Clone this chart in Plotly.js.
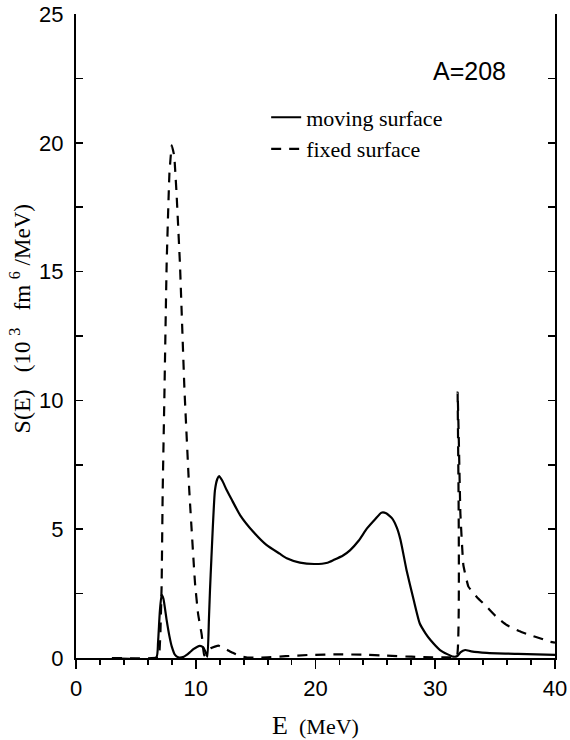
<!DOCTYPE html>
<html>
<head>
<meta charset="utf-8">
<script src="https://cdn.plot.ly/plotly-3.0.1.min.js"></script>
<style>html,body{margin:0;padding:0;background:#fff;}#chart{width:570px;height:740px;}</style>
</head>
<body>
<div id="chart"></div>
<script>
// Energy grid (MeV) and strength S(E) (10^3 fm^6/MeV)
const movingE = [3, 6.7, 6.85, 7.0, 7.15, 7.3, 7.57, 7.8, 8.0, 8.27, 8.6, 9.0, 9.24, 9.5, 9.8, 10.1, 10.35, 10.6, 10.8, 10.97, 11.1, 11.19, 11.3, 11.6, 11.8, 11.95, 12.2, 12.58, 13.0, 13.7, 14.8, 15.9, 17.0, 17.6, 18.7, 19.96, 21.0, 21.5, 22.3, 22.9, 23.6, 24.3, 25.0, 25.5, 25.9, 26.4, 26.8, 27.1, 27.6, 28.2, 28.7, 29.2, 29.6, 30.4, 31.0, 31.5, 31.85, 32.1, 32.5, 33.0, 34.3, 36.9, 40];
const movingS = [0, 0.02, 0.6, 1.8, 2.45, 2.3, 1.47, 0.85, 0.44, 0.12, 0.02, 0.05, 0.12, 0.22, 0.34, 0.43, 0.47, 0.42, 0.25, 0.05, 1.5, 2.64, 3.8, 6.5, 6.95, 7.06, 6.9, 6.52, 6.15, 5.55, 4.9, 4.39, 4.05, 3.87, 3.7, 3.65, 3.7, 3.8, 3.98, 4.19, 4.55, 5.03, 5.4, 5.64, 5.62, 5.42, 5.05, 4.58, 3.42, 2.25, 1.35, 0.95, 0.70, 0.31, 0.15, 0.05, 0.08, 0.22, 0.31, 0.26, 0.2, 0.16, 0.12];

const fixedE = [3, 6.9, 6.98, 7.05, 7.15, 7.24, 7.38, 7.57, 7.8, 8.0, 8.2, 8.4, 8.68, 9.05, 9.46, 9.94, 10.2, 10.5, 10.7, 10.9, 11.3, 11.9, 12.5, 13.1, 13.7, 14.3, 15.0, 16.0, 17.5, 19.5, 22.0, 24.0, 25.9, 28.0, 29.8, 31.0, 31.8, 31.87, 31.98, 32.1, 32.35, 32.77, 33.5, 34.3, 35.1, 35.97, 37.0, 37.9, 38.8, 39.6, 40];
const fixedS = [0, 0.02, 0.3, 1.0, 2.8, 6.5, 10.15, 15.3, 18.8, 19.9, 19.5, 18.0, 15.3, 10.5, 6.5, 2.9, 1.7, 0.9, 0.1, 0.2, 0.39, 0.48, 0.35, 0.2, 0.08, 0.02, 0.01, 0.03, 0.07, 0.12, 0.14, 0.13, 0.09, 0.05, 0.03, 0.03, 0.05, 10.3, 8.2, 5.6, 3.6, 2.77, 2.35, 1.99, 1.6, 1.28, 1.05, 0.89, 0.76, 0.63, 0.6];

const seriesNames = ["moving surface", "fixed surface"];
const labelText = "A=208";

const sans = "Liberation Sans, Arial, sans-serif";
const serif = "Liberation Serif, Times New Roman, serif";

const traces = [
  {x: movingE, y: movingS, type: "scatter", mode: "lines", name: seriesNames[0],
   line: {color: "#000", width: 2.2, shape: "spline", smoothing: 0.5}},
  {x: fixedE, y: fixedS, type: "scatter", mode: "lines", name: seriesNames[1],
   line: {color: "#000", width: 2.2, dash: "10px,8px", shape: "spline", smoothing: 0.3}}
];

const layout = {
  width: 570, height: 740,
  margin: {l: 76, r: 15, t: 14, b: 82},
  paper_bgcolor: "#fff", plot_bgcolor: "#fff",
  showlegend: true,
  legend: {x: 0.397, y: 0.872, xanchor: "left", yanchor: "top",
           bgcolor: "rgba(0,0,0,0)", font: {family: serif, size: 22, color: "#000"}},
  xaxis: {
    range: [0, 40], dtick: 10, tick0: 0,
    ticks: "outside", ticklen: 9, tickwidth: 1.8, tickcolor: "#000",
    minor: {dtick: 2, ticks: "outside", ticklen: 5, tickwidth: 1.8, tickcolor: "#000", showgrid: false},
    showline: true, linecolor: "#000", linewidth: 2, mirror: false,
    showgrid: false, zeroline: false,
    tickfont: {family: sans, size: 22, color: "#000"},
    ticklabelstandoff: 1,
    title: {text: '<span style="font-size:26px">E</span>&nbsp;&nbsp;(MeV)', font: {family: serif, size: 22, color: "#000"}, standoff: 20}
  },
  xaxis2: {
    overlaying: "x", side: "top", matches: "x", range: [0, 40], dtick: 10, tick0: 0,
    ticks: "inside", ticklen: 9, tickwidth: 1.5, tickcolor: "#000",
    minor: {dtick: 2, ticks: "inside", ticklen: 5, tickwidth: 1.5, tickcolor: "#000", showgrid: false},
    showline: true, linecolor: "#000", linewidth: 2,
    showgrid: false, zeroline: false, showticklabels: false
  },
  yaxis: {
    range: [0, 25], dtick: 5, tick0: 0,
    ticks: "inside", ticklen: 7, tickwidth: 1.5, tickcolor: "#000",
    minor: {dtick: 2.5, ticks: "inside", ticklen: 7, tickwidth: 1.5, tickcolor: "#000", showgrid: false},
    showline: true, linecolor: "#000", linewidth: 2, mirror: "ticks",
    showgrid: false, zeroline: false,
    tickfont: {family: sans, size: 22, color: "#000"},
    ticklabelstandoff: 6,
    title: {text: '&nbsp;&nbsp;&nbsp;&nbsp;&nbsp;&nbsp;<span style="font-size:24px">S(E)</span>&nbsp;&nbsp;&nbsp;(10&nbsp;<sup>3</sup>&nbsp;&nbsp;&nbsp;fm&nbsp;<sup>6</sup>&nbsp;/MeV)',
            font: {family: serif, size: 23, color: "#000"}, standoff: 2}
  },
  annotations: [{
    text: labelText, xref: "paper", yref: "paper", x: 0.8215, y: 0.9115,
    xanchor: "center", yanchor: "middle", showarrow: false,
    font: {family: sans, size: 25, color: "#000"}
  }]
};

Plotly.newPlot("chart", traces, layout, {staticPlot: true, displayModeBar: false});
</script>
</body>
</html>
